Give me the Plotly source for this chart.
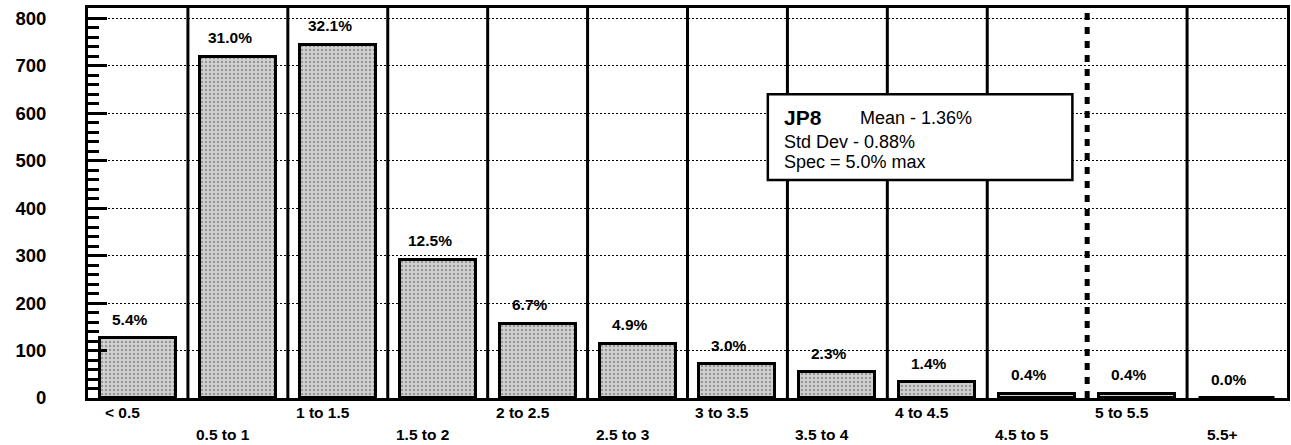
import plotly.graph_objects as go

categories = ["< 0.5", "0.5 to 1", "1 to 1.5", "1.5 to 2", "2 to 2.5", "2.5 to 3",
              "3 to 3.5", "3.5 to 4", "4 to 4.5", "4.5 to 5", "5 to 5.5", "5.5+"]
counts = [126, 719, 745, 291, 156, 114, 71, 54, 33, 9, 9, 0]
percent_labels = ["5.4%", "31.0%", "32.1%", "12.5%", "6.7%", "4.9%",
                  "3.0%", "2.3%", "1.4%", "0.4%", "0.4%", "0.0%"]
y_ticks = [0, 100, 200, 300, 400, 500, 600, 700, 800]
spec_boundary = 9.5  # between "4.5 to 5" and "5 to 5.5"
legend_title = "JP8"
legend_lines = ["Mean - 1.36%", "Std Dev - 0.88%", "Spec = 5.0% max"]

FONT = "Liberation Sans, Arial, sans-serif"
xs = list(range(len(categories)))

fig = go.Figure()
fig.add_trace(go.Bar(
    x=xs, y=counts, width=0.76,
    marker=dict(
        color="#c8c8c8",
        line=dict(color="black", width=3),
        pattern=dict(shape=".", fgcolor="#5a5a5a", bgcolor="#d2d2d2",
                     size=4, solidity=0.3),
    ),
    hoverinfo="skip",
))

shapes = []
for k in range(len(categories) - 1):
    b = k + 0.5
    if b == spec_boundary:
        continue
    shapes.append(dict(type="line", xref="x", yref="paper", x0=b, x1=b, y0=0, y1=1,
                       line=dict(color="black", width=3), layer="above"))
shapes.append(dict(type="line", xref="x", yref="paper", x0=spec_boundary, x1=spec_boundary,
                   y0=0, y1=1, line=dict(color="black", width=5, dash="7px,7px"), layer="above"))
# legend box
shapes.append(dict(type="rect", xref="paper", yref="paper",
                   x0=0.567, x1=0.821, y0=0.559, y1=0.779,
                   fillcolor="white", line=dict(color="black", width=2.5), layer="above"))

annotations = []
for i, (v, t) in enumerate(zip(counts, percent_labels)):
    annotations.append(dict(x=i - 0.08, y=v, xref="x", yref="y", text=f"<b>{t}</b>",
                            showarrow=False, yshift=19, yanchor="middle",
                            font=dict(family=FONT, size=15.5, color="black")))
for i, c in enumerate(categories):
    annotations.append(dict(x=i - 0.15, y=0, xref="x", yref="paper", text=f"<b>{c}</b>",
                            showarrow=False, yshift=-14 if i % 2 == 0 else -36,
                            yanchor="middle",
                            font=dict(family=FONT, size=15.5, color="black")))

annotations.append(dict(x=0.579, y=0.718, xref="paper", yref="paper",
                        text=f"<b>{legend_title}</b>", showarrow=False,
                        xanchor="left", yanchor="middle",
                        font=dict(family=FONT, size=21, color="black")))
annotations.append(dict(x=0.642, y=0.718, xref="paper", yref="paper",
                        text=legend_lines[0], showarrow=False,
                        xanchor="left", yanchor="middle",
                        font=dict(family=FONT, size=18, color="black")))
annotations.append(dict(x=0.579, y=0.656, xref="paper", yref="paper",
                        text=legend_lines[1], showarrow=False,
                        xanchor="left", yanchor="middle",
                        font=dict(family=FONT, size=18, color="black")))
annotations.append(dict(x=0.579, y=0.605, xref="paper", yref="paper",
                        text=legend_lines[2], showarrow=False,
                        xanchor="left", yanchor="middle",
                        font=dict(family=FONT, size=18, color="black")))

fig.update_layout(
    width=1291, height=445,
    margin=dict(l=88, r=4, t=8, b=47, autoexpand=False),
    paper_bgcolor="white", plot_bgcolor="white",
    showlegend=False,
    shapes=shapes, annotations=annotations,
    bargap=0,
)
fig.update_xaxes(range=[-0.5, 11.5], showticklabels=False, ticks="", showgrid=False,
                 zeroline=False, showline=True, linecolor="black", linewidth=3, mirror=True,
                 fixedrange=True)
fig.update_yaxes(range=[0, 822], tickvals=y_ticks, ticktext=[f"<b>{v}</b>" for v in y_ticks],
                 ticks="inside", ticklen=19, tickwidth=3, tickcolor="black",
                 ticklabelstandoff=35,
                 minor=dict(dtick=20, ticks="inside", ticklen=11, tickwidth=3,
                            tickcolor="black", showgrid=False),
                 showgrid=True, gridcolor="black", gridwidth=1.3, griddash="2px,2px",
                 zeroline=False, showline=True, linecolor="black", linewidth=3, mirror=True,
                 tickfont=dict(family=FONT, size=18.5, color="black"), fixedrange=True)

fig.write_html("out.html", config={"displayModeBar": False},
               post_script="document.body.style.margin='0';document.body.style.overflow='hidden';")
